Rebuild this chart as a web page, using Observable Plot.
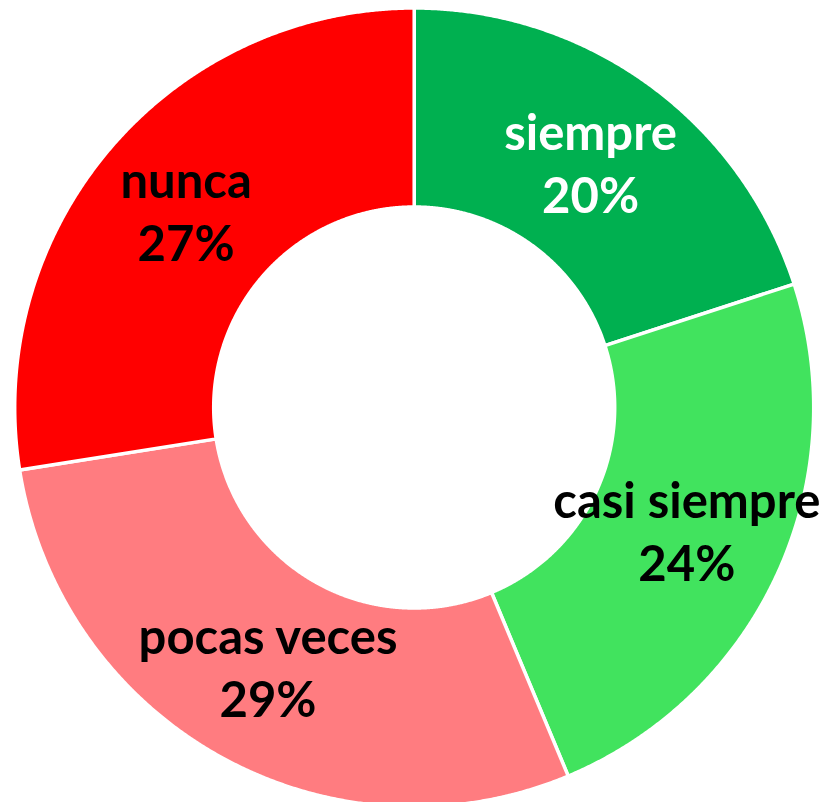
<!DOCTYPE html>
<html><head><meta charset="utf-8">
<script src="https://cdn.jsdelivr.net/npm/d3@7"></script>
<script src="https://cdn.jsdelivr.net/npm/@observablehq/plot@0.6"></script>
<style>body{margin:0;background:#fff}</style>
</head><body><div id="chart"></div>
<script>
const categories = ["siempre", "casi siempre", "pocas veces", "nunca"];
const shares = [20.0, 23.7, 28.8, 27.5];
const percentLabels = ["20%", "24%", "29%", "27%"];
const colors = ["#00B050", "#41E35E", "#FF7C80", "#FF0000"];
const whiteLabel = [true, false, false, false];

const W = 827, H = 802, cx = 413.7, cy = 407;
const R = 399.5, r0 = 200.5, rLabel = 300;

const arcs = d3.pie().sort(null).value(d => d)(shares);
const ring = [];
const labels = [];
arcs.forEach((p, i) => {
  const n = Math.max(2, Math.ceil((p.endAngle - p.startAngle) / 0.004));
  const pts = [];
  for (let k = 0; k <= n; k++) {
    const a = p.startAngle + (p.endAngle - p.startAngle) * k / n;
    pts.push([R * Math.sin(a), R * Math.cos(a)]);
  }
  for (let k = n; k >= 0; k--) {
    const a = p.startAngle + (p.endAngle - p.startAngle) * k / n;
    pts.push([r0 * Math.sin(a), r0 * Math.cos(a)]);
  }
  pts.push(pts[0]);
  pts.forEach(([x, y]) => ring.push({cat: categories[i], x, y}));
  const mid = (p.startAngle + p.endAngle) / 2;
  labels.push({cat: categories[i], pct: percentLabels[i], white: whiteLabel[i],
    x: rLabel * Math.sin(mid), y: rLabel * Math.cos(mid)});
});

const textStyle = {x: "x", y: "y", fontSize: 49, fontWeight: "bold", fontFamily: "Lato, 'Open Sans', sans-serif", textAnchor: "middle", lineAnchor: "bottom"};

const chart = Plot.plot({
  width: W, height: H, margin: 0,
  x: {domain: [-cx, W - cx], range: [0, W], axis: null},
  y: {domain: [cy - H, cy], range: [H, 0], axis: null},
  color: {domain: categories, range: colors},
  marks: [
    Plot.line(ring, {x: "x", y: "y", z: "cat", fill: "cat", stroke: "white", strokeWidth: 3.5, curve: "linear"}),
    Plot.text(labels.filter(d => d.white), {...textStyle, text: "cat", fill: "white", dy: -15}),
    Plot.text(labels.filter(d => d.white), {...textStyle, text: "pct", fill: "white", dy: 48}),
    Plot.text(labels.filter(d => !d.white), {...textStyle, text: "cat", fill: "black", dy: -15}),
    Plot.text(labels.filter(d => !d.white), {...textStyle, text: "pct", fill: "black", dy: 48})
  ]
});
document.getElementById("chart").appendChild(chart);
</script>
</body></html>
